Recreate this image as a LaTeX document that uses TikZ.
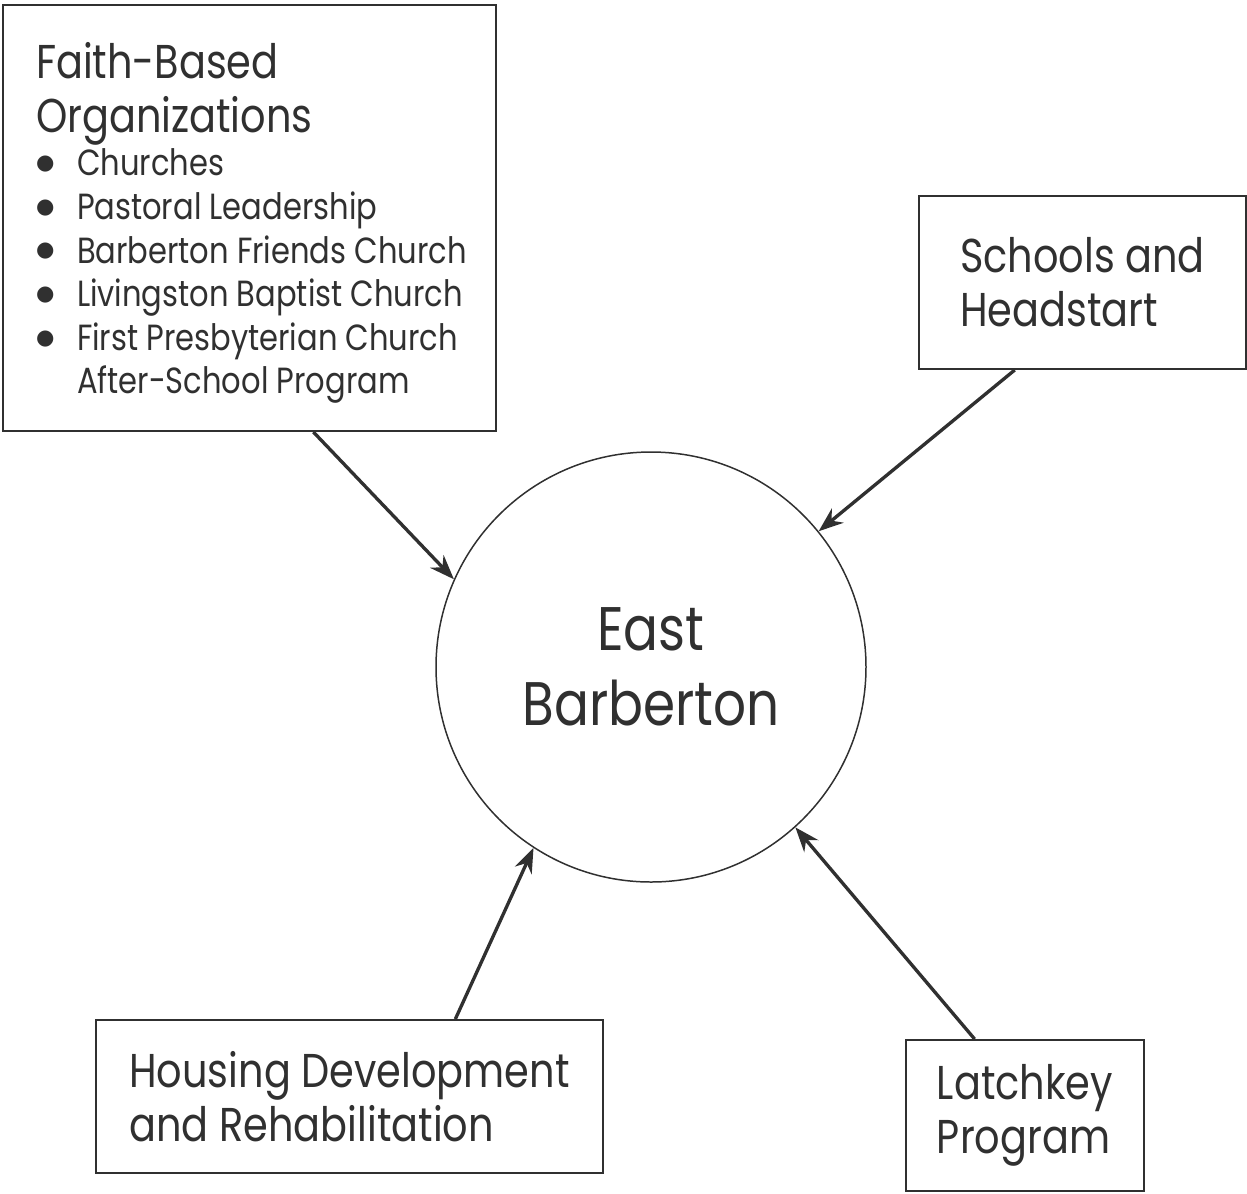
\documentclass[tikz,border=0pt]{standalone}
\usepackage{fontspec}
\setmainfont{Poppins}[FakeStretch=0.84]
\newfontfamily\dotfont{DejaVu Sans}
\usetikzlibrary{positioning,arrows.meta,calc}
\definecolor{ink}{HTML}{303030}
\newcommand{\bigtext}{\fontsize{27}{30.6}\selectfont}
\newcommand{\listtext}{\fontsize{20.7}{24.8}\selectfont}
\newcommand{\hubtext}{\fontsize{35}{42.5}\selectfont}
\newcommand{\bul}{\makebox[0.82cm][l]{\raisebox{3.5pt}{\dotfont\fontsize{12}{12}\selectfont ●}}}
\tikzset{box node/.style={rectangle,draw=ink,text=ink,line width=1.1pt,align=left,inner sep=0pt,font=\bigtext},
hub node/.style={circle,draw=ink,text=ink,line width=0.85pt,minimum size=8.6cm,inner sep=0pt,align=center,font=\hubtext},
link/.style={draw=ink,line width=1.9pt,-{Stealth[length=14pt,width=10.5pt]}},
}

\begin{document}
\begin{tikzpicture}[on grid]
	\useasboundingbox (0,0) rectangle (24.94,-23.86);
	\node[hub node] (hub) at (13.02,-13.34) {East\\Barberton};
	\node[box node,text width=9.86cm,minimum height=8.52cm] (faith)[above left = 8.98cm and 8.03cm of hub]
	{\leftskip=0.66cm \spaceskip=0pt \xspaceskip=0pt Faith-Based\\Organizations\par
	{\listtext\bul Churches\\
	\bul Pastoral Leadership\\
	\bul Barberton Friends Church\\
	\bul Livingston Baptist Church\\
	\bul First Presbyterian Church\\
	\hspace*{0.82cm}After-School Program\par}\vspace{-0.2cm}};
	\node[box node,minimum width=6.54cm,minimum height=3.46cm] (school)[above right = 7.69cm and 8.63cm of hub]{Schools and\\Headstart};
	\node[box node,minimum width=10.14cm,minimum height=3.06cm] (housing)[below left = 8.59cm and 6.03cm of hub]{Housing Development\\and Rehabilitation};
	\node[box node,minimum width=4.76cm,minimum height=3.02cm] (latch)[below right = 8.97cm and 7.48cm of hub]{Latchkey\\Program};
	
	\path
	($(faith.south west)!0.629!(faith.south east)$) edge[link] (hub.156)
	($(school.south west)!0.294!(school.south east)$) edge[link] (hub.39)
	($(housing.north west)!0.708!(housing.north east)$) edge[link] (hub.237)
	($(latch.north west)!0.29!(latch.north east)$) edge[link] (hub.-48);
\end{tikzpicture}
\end{document}
